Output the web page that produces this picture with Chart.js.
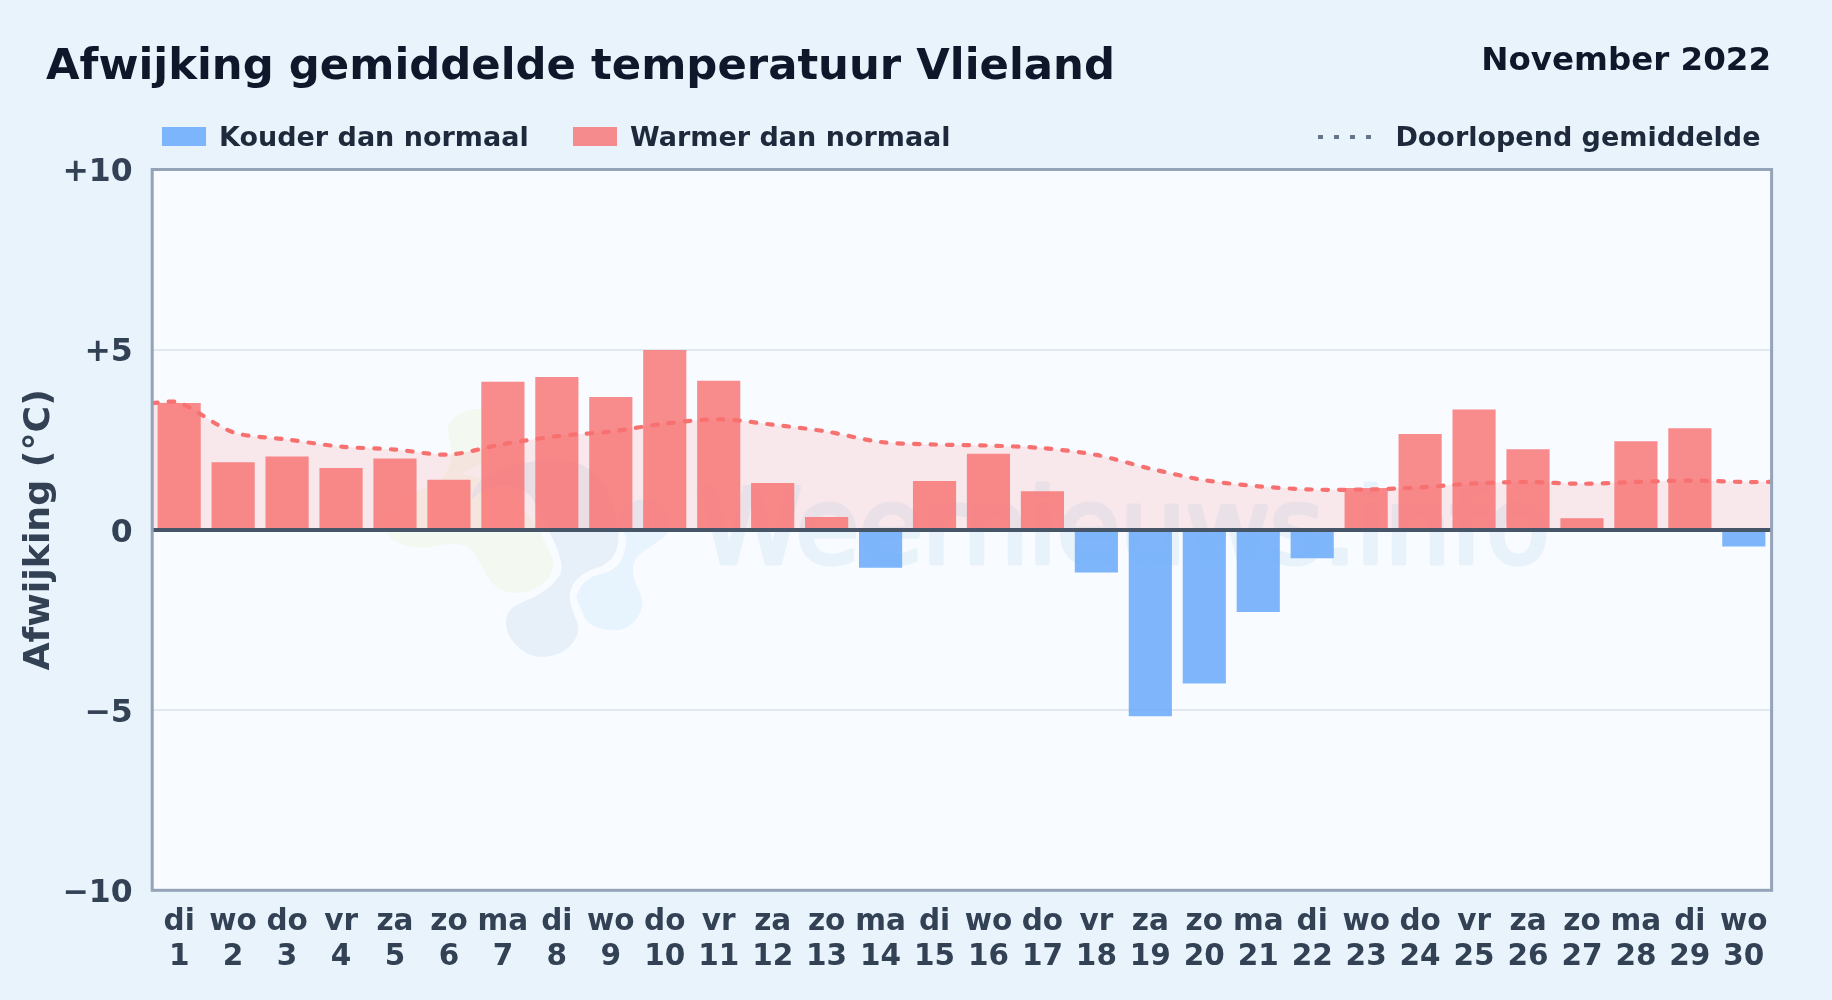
<!DOCTYPE html>
<html lang="nl">
<head>
<meta charset="utf-8">
<title>Afwijking gemiddelde temperatuur Vlieland</title>
<script src="https://cdn.jsdelivr.net/npm/chart.js@4/dist/chart.umd.js"></script>
<style>
html,body{margin:0;padding:0;width:1832px;height:1000px;overflow:hidden;background:#e8f3fc;font-family:"DejaVu Sans",sans-serif;font-weight:700}
#wrap{position:relative;width:1832px;height:1000px}
canvas{position:absolute;left:0;top:0}
.t{position:absolute;white-space:nowrap;line-height:1}
#title{left:46px;top:43px;font-size:43.35px;color:#0f172a}
#period{right:61px;top:43px;font-size:32.5px;color:#0f172a}
.leg{top:123px;font-size:27px;color:#1e293b}
.sw{position:absolute;top:127px;width:44px;height:19px}
</style>
</head>
<body>
<div id="wrap">
<canvas id="c" width="1832" height="1000" style="width:1832px;height:1000px"></canvas>
<div class="t" id="title">Afwijking gemiddelde temperatuur Vlieland</div>
<div class="t" id="period">November 2022</div>
<div class="sw" style="left:162px;background:rgba(96,165,250,.8)"></div>
<div class="t leg" style="left:219px">Kouder dan normaal</div>
<div class="sw" style="left:573px;background:rgba(248,113,113,.8)"></div>
<div class="t leg" style="left:630px">Warmer dan normaal</div>
<svg style="position:absolute;left:1316px;top:130px" width="60" height="14"><line x1="2" y1="7" x2="58" y2="7" stroke="#64748b" stroke-width="4" stroke-dasharray="5 11"/></svg>
<div class="t leg" style="right:71.5px">Doorlopend gemiddelde</div>
</div>
<script>
const weekdays = ["di","wo","do","vr","za","zo","ma","di","wo","do","vr","za","zo","ma","di","wo","do","vr","za","zo","ma","di","wo","do","vr","za","zo","ma","di","wo"];
const days = [1,2,3,4,5,6,7,8,9,10,11,12,13,14,15,16,17,18,19,20,21,22,23,24,25,26,27,28,29,30];
const deviation = [3.52,1.88,2.04,1.72,1.98,1.39,4.11,4.24,3.69,4.99,4.14,1.3,0.36,-1.05,1.36,2.11,1.07,-1.18,-5.17,-4.26,-2.28,-0.79,1.16,2.66,3.34,2.24,0.32,2.46,2.82,-0.46];
const runningX = [0.5,1,2,3,4,5,6,7,8,9,10,11,12,13,14,15,16,17,18,19,20,21,22,23,24,25,26,27,28,29,30,30.5];
const runningMean = [3.52,3.53,2.71,2.51,2.31,2.23,2.09,2.38,2.6,2.73,2.95,3.07,2.92,2.73,2.44,2.37,2.34,2.27,2.08,1.7,1.38,1.21,1.12,1.12,1.18,1.29,1.33,1.28,1.33,1.37,1.33,1.33];
const yTickLabels = {"10":"+10","5":"+5","0":"0","-5":"\u22125","-10":"\u221210"};

const WARM = "rgba(248,113,113,0.8)", COLD = "rgba(96,165,250,0.8)";
const FRAME_RIGHT_EXTRA = 0.8;

const plotDecor = {
  id:"plotDecor",
  beforeDatasetsDraw(chart){
    const {ctx,chartArea:a} = chart;
    ctx.save();
    ctx.beginPath();ctx.rect(a.left,a.top,a.width,a.height);ctx.clip();
    ctx.fillStyle="#f3f9f1";
    ctx.fill(new Path2D("M448,432C447,412 478,404 495,412L492,458L462,474C500,480 535,510 553,560C556,585 525,597 510,592C490,590 485,570 475,555C465,540 450,543 430,547C405,550 385,540 385,525C385,505 420,490 440,480C455,465 452,450 448,432Z"));
    ctx.fillStyle="#e7f0f8";
    ctx.fill(new Path2D("M472,500C470,480 500,465 530,462C560,455 600,460 612,500C620,530 625,555 600,567C580,572 568,585 570,600C572,615 582,625 577,635C570,655 545,660 530,655C510,645 500,625 510,610C520,600 545,598 560,575C568,560 545,525 533,500C525,485 490,478 472,500Z"));
    ctx.fillStyle="#e8f4fd";
    ctx.fill(new Path2D("M637,500C655,495 675,515 667,533C660,545 635,550 633,567C632,585 645,595 642,607C638,625 620,632 613,630C600,630 585,625 583,613C577,600 575,595 578,593C582,582 590,577 597,575C610,572 625,568 626,540C626,530 617,530 617,523C618,515 625,505 637,500Z"));
    ctx.fillStyle="#e8f2fa";
    ctx.font='103px "DejaVu Sans",sans-serif';
    ctx.textAlign="left";ctx.textBaseline="alphabetic";
    ctx.lineWidth=5;ctx.lineJoin="round";ctx.strokeStyle="#e8f2fa";
    ctx.fillText("Weernieuws.info",700,563);
    ctx.strokeText("Weernieuws.info",700,563);
    ctx.restore();
  },
  beforeDraw(chart){
    const {ctx,chartArea:a} = chart;
    ctx.save();ctx.fillStyle="#f8fbff";ctx.fillRect(a.left,a.top,a.width+FRAME_RIGHT_EXTRA,a.height);ctx.restore();
  },
  afterDatasetsDraw(chart){
    const {ctx,chartArea:a,scales} = chart;
    const y0 = scales.y.getPixelForValue(0);
    ctx.save();
    ctx.strokeStyle="#475569";ctx.lineWidth=4;
    ctx.beginPath();ctx.moveTo(a.left,y0);ctx.lineTo(a.right+FRAME_RIGHT_EXTRA,y0);ctx.stroke();
    ctx.strokeStyle="#94a3b8";ctx.lineWidth=3;
    ctx.strokeRect(a.left,a.top,a.width+FRAME_RIGHT_EXTRA,a.height);
    ctx.restore();
  }
};

new Chart(document.getElementById("c"),{
  type:"bar",
  data:{
    labels:weekdays.map((w,i)=>[w,String(days[i])]),
    datasets:[
      {
        type:"line",label:"Doorlopend gemiddelde",xAxisID:"x2",order:0,
        data:runningMean.map((y,i)=>({x:runningX[i],y})),
        borderColor:"#f87171",borderWidth:4.2,borderDash:[5.5,11],borderCapStyle:"round",
        backgroundColor:"rgba(255,100,100,0.12)",fill:"origin",tension:0.3,pointRadius:0,pointHoverRadius:0
      },
      {
        type:"bar",label:"Afwijking",order:1,grouped:false,
        data:deviation,
        backgroundColor:deviation.map(v=>v<0?COLD:WARM),
        barPercentage:0.8,categoryPercentage:1,borderWidth:0
      }
    ]
  },
  options:{
    responsive:false,animation:false,devicePixelRatio:1,
    layout:{padding:{left:0,top:169.5,right:61.2,bottom:0}},
    plugins:{legend:{display:false},title:{display:false},tooltip:{enabled:false}},
    scales:{
      x:{
        offset:true,
        grid:{display:false,drawTicks:false},border:{display:false},
        ticks:{color:"#334155",font:{family:"DejaVu Sans",size:29.5,weight:"bold",lineHeight:1.17},padding:15,maxRotation:0,minRotation:0,autoSkip:false},
        afterFit(s){s.height=109.7}
      },
      x2:{type:"linear",display:false,offset:false,min:0.5,max:30.5,grid:{offset:false}},
      y:{
        min:-10,max:10,
        grid:{color:c=>c.tick.value===0?"rgba(0,0,0,0)":"#e2e8f0",lineWidth:2,drawTicks:false},border:{display:false},
        ticks:{stepSize:5,color:"#334155",font:{family:"DejaVu Sans",size:31.5,weight:"bold",lineHeight:"7px"},padding:19.5,callback:v=>["",yTickLabels[String(v)]]},
        title:{display:true,text:"Afwijking (\u00b0C)",color:"#334155",font:{family:"DejaVu Sans",size:36.3,weight:"bold"},padding:{top:18,bottom:0}},
        afterFit(s){s.width=152.2}
      }
    }
  },
  plugins:[plotDecor]
});
</script>
</body>
</html>
